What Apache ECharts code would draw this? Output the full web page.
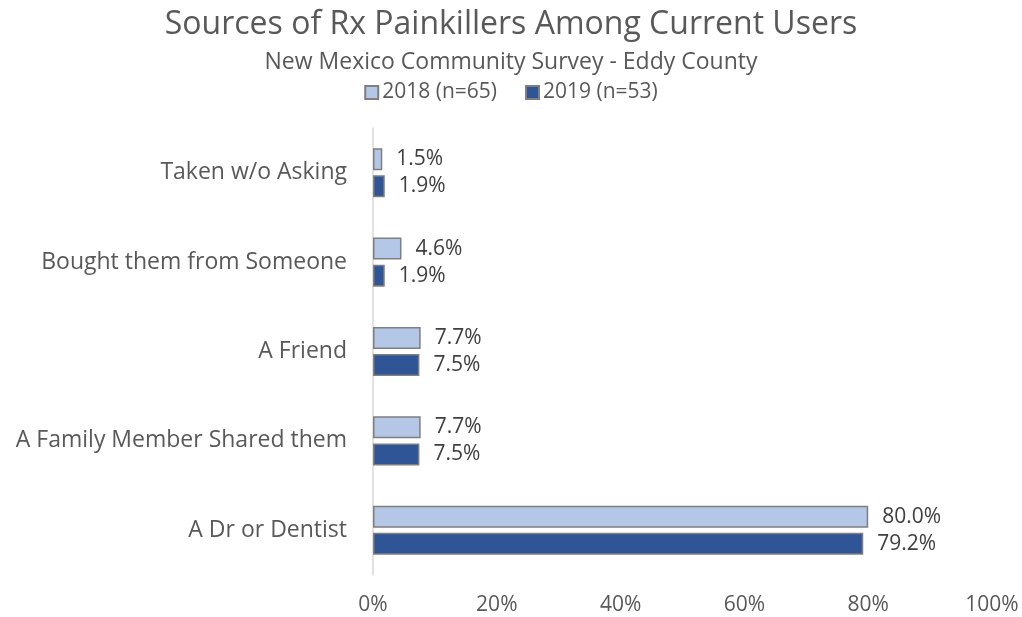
<!DOCTYPE html>
<html>
<head>
<meta charset="utf-8">
<script src="https://cdn.jsdelivr.net/npm/echarts@6/dist/echarts.min.js"></script>
<style>
  html, body { margin: 0; padding: 0; background: #fff; }
  #chart { width: 1022px; height: 617px; }
</style>
</head>
<body>
<div id="chart"></div>
<script>
// Sources of prescription painkillers, listed bottom-to-top for the category axis
const categories = [
  'A Dr or Dentist',
  'A Family Member Shared them',
  'A Friend',
  'Bought them from Someone',
  'Taken w/o Asking'
];
const seriesNames = ['2018 (n=65)', '2019 (n=53)'];
const values2018 = [80.0, 7.7, 7.7, 4.6, 1.5];
const values2019 = [79.2, 7.5, 7.5, 1.9, 1.9];
const xTicks = [0, 20, 40, 60, 80, 100];

const FONT = '"Open Sans", "Noto Sans", sans-serif';
const colors = ['#b4c7e7', '#2f5597'];

const chart = echarts.init(document.getElementById('chart'), null, { renderer: 'canvas' });

function barSeries(name, data, color) {
  return {
    name: name,
    type: 'bar',
    data: data,
    barWidth: 22,
    barGap: '23%',
    itemStyle: { color: color, borderColor: '#7f7f7f', borderWidth: 1.5 },
    label: {
      show: true,
      position: 'right',
      distance: 14,
      color: '#404040',
      fontFamily: FONT,
      fontSize: 21,
      formatter: p => p.value.toFixed(1) + '%'
    }
  };
}

chart.setOption({
  animation: false,
  title: {
    text: 'Sources of Rx Painkillers Among Current Users',
    subtext: 'New Mexico Community Survey - Eddy County',
    left: 'center',
    top: 4,
    itemGap: 10,
    textStyle: { fontFamily: FONT, fontSize: 32, fontWeight: 'normal', color: '#595959' },
    subtextStyle: { fontFamily: FONT, fontSize: 23, color: '#595959' }
  },
  legend: {
    data: seriesNames,
    top: 77,
    left: 'center',
    itemWidth: 13,
    itemHeight: 13,
    itemGap: 28,
    icon: 'rect',
    textStyle: { fontFamily: FONT, fontSize: 21, color: '#595959', padding: [0, 0, 0, -1] }
  },
  grid: { left: 373, right: 30, top: 128, bottom: 42, containLabel: false },
  xAxis: {
    type: 'value',
    min: 0,
    max: 100,
    interval: 20,
    axisLine: { show: false },
    axisTick: { show: false },
    splitLine: { show: false },
    axisLabel: {
      margin: 20,
      fontFamily: FONT,
      fontSize: 21,
      color: '#595959',
      formatter: v => (xTicks.includes(v) ? v + '%' : '')
    }
  },
  yAxis: {
    type: 'category',
    data: categories,
    axisLine: { show: true, lineStyle: { color: '#d9d9d9', width: 1.5 } },
    axisTick: { show: false },
    axisLabel: { margin: 26, fontFamily: FONT, fontSize: 23, color: '#595959' }
  },
  series: [
    barSeries(seriesNames[0], values2018, colors[0]),
    barSeries(seriesNames[1], values2019, colors[1])
  ]
});
</script>
</body>
</html>
